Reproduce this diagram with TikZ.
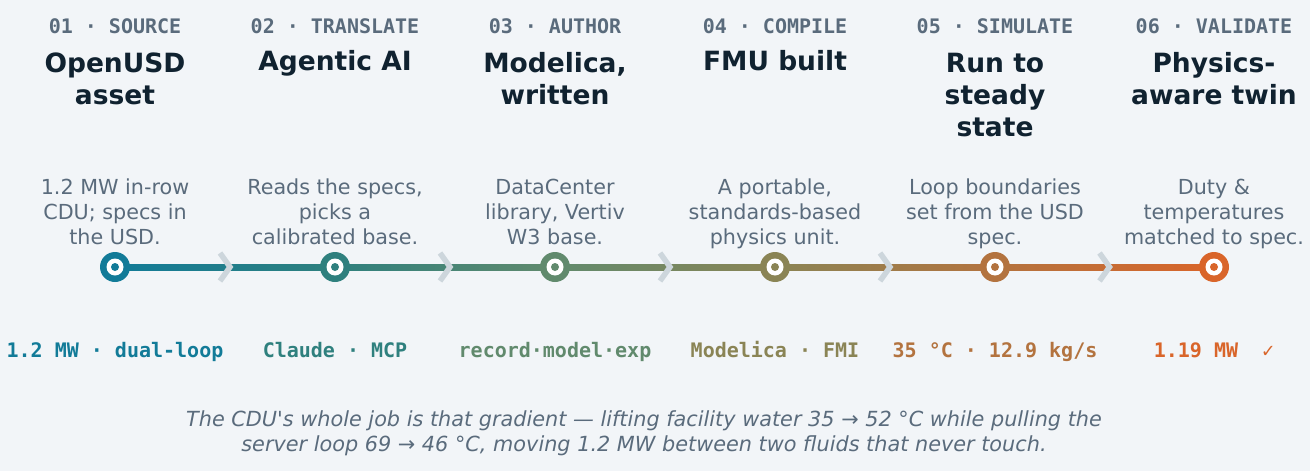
\documentclass[tikz,border=0pt]{standalone}
\usepackage{fontspec}
\setmainfont{DejaVu Sans}
\setmonofont{DejaVu Sans Mono}
\usetikzlibrary{calc}
\definecolor{bg}{HTML}{F2F5F8}
\definecolor{ink}{HTML}{102230}
\definecolor{muted}{HTML}{5A6B7C}
\definecolor{chevc}{HTML}{CDD6DC}
\definecolor{cA}{HTML}{127B98}
\definecolor{cB}{HTML}{2F807E}
\definecolor{cC}{HTML}{618A6D}
\definecolor{cD}{HTML}{8A8455}
\definecolor{cE}{HTML}{B3733F}
\definecolor{cF}{HTML}{D9652A}
\begin{document}
\begin{tikzpicture}[x=1pt,y=-1pt,
  steplbl/.style={font=\ttfamily\bfseries\fontsize{20}{24}\selectfont, text=muted, anchor=base, inner sep=0pt},
  ttl/.style={font=\bfseries\fontsize{26.5}{32}\selectfont, text=ink, align=center, anchor=base, inner sep=0pt},
  desc/.style={font=\fontsize{20.7}{25}\selectfont, text=muted, align=center, anchor=base, inner sep=0pt},
  tag/.style={font=\ttfamily\bfseries\fontsize{20}{24}\selectfont, anchor=base, inner sep=0pt, text=#1},
  stop/.style={circle, fill=#1, minimum size=30pt, inner sep=0pt},
  hole/.style={circle, fill=white, minimum size=17pt, inner sep=0pt},
  pip/.style={circle, fill=#1, minimum size=8pt, inner sep=0pt},
  chev/.style={draw=chevc, line width=5.5pt, line join=miter, line cap=butt},
  note/.style={font=\itshape\fontsize{20.8}{25}\selectfont, text=muted, align=center, anchor=base, inner sep=0pt}]
\fill[bg] (0,0) rectangle (1310,471);
\useasboundingbox (0,0) rectangle (1310,471);

% step labels
\node[steplbl] (l1) at (115,33) {01 · SOURCE};
\node[steplbl] (l2) at (335,33) {02 · TRANSLATE};
\node[steplbl] (l3) at (555,33) {03 · AUTHOR};
\node[steplbl] (l4) at (775,33) {04 · COMPILE};
\node[steplbl] (l5) at (995,33) {05 · SIMULATE};
\node[steplbl] (l6) at (1214,33) {06 · VALIDATE};

% titles (anchor = baseline of last line)
\node[ttl] (t1) at (115,104) {OpenUSD\\asset};
\node[ttl] (t2) at (335,70) {Agentic AI};
\node[ttl] (t3) at (555,104) {Modelica,\\written};
\node[ttl] (t4) at (775,70) {FMU built};
\node[ttl] (t5) at (995,136) {Run to\\steady\\state};
\node[ttl] (t6) at (1214,104) {Physics-\\aware twin};

% descriptions
\node[desc] (d1) at (115,244) {1.2 MW in-row\\CDU; specs in\\the USD.};
\node[desc] (d2) at (335,244) {Reads the specs,\\picks a\\calibrated base.};
\node[desc] (d3) at (555,244) {DataCenter\\library, Vertiv\\W3 base.};
\node[desc] (d4) at (775,244) {A portable,\\standards-based\\physics unit.};
\node[desc] (d5) at (995,244) {Loop boundaries\\set from the USD\\spec.};
\node[desc] (d6) at (1214,244) {Duty \&\\temperatures\\matched to spec.};

% stop coordinates
\coordinate (s1) at (115,267);
\coordinate (s2) at (335,267);
\coordinate (s3) at (555,267);
\coordinate (s4) at (775,267);
\coordinate (s5) at (995,267);
\coordinate (s6) at (1214,267);

% gradient track
\foreach \a/\b/\ca/\cb in {s1/s2/cA/cB, s2/s3/cB/cC, s3/s4/cC/cD, s4/s5/cD/cE, s5/s6/cE/cF}{
  \foreach \k in {0,...,54}{
    \pgfmathsetmacro\p{100*(\k+0.5)/55}
    \pgfmathsetmacro\u{\k/55}
    \pgfmathsetmacro\v{(\k+1)/55}
    \draw[line width=7pt, color=\cb!\p!\ca] ($(\a)!\u!(\b)$) -- ($(\a)!\v!(\b)$);
  }
}

% chevrons
\foreach \a/\b in {s1/s2, s2/s3, s3/s4, s4/s5, s5/s6}{
  \draw[chev] ($(\a)!0.5!(\b)+(-5,-14)$) -- ($(\a)!0.5!(\b)+(5,0)$) -- ($(\a)!0.5!(\b)+(-5,14)$);
}

% stops
\foreach \s/\c in {s1/cA, s2/cB, s3/cC, s4/cD, s5/cE, s6/cF}{
  \node[stop=\c] (n\s) at (\s) {};
  \node[hole] at (\s) {};
  \node[pip=\c] at (\s) {};
}

% tags
\node[tag=cA] (g1) at (115,357) {1.2 MW · dual-loop};
\node[tag=cB] (g2) at (335,357) {Claude · MCP};
\node[tag=cC] (g3) at (555,357) {record·model·exp};
\node[tag=cD] (g4) at (775,357) {Modelica · FMI};
\node[tag=cE] (g5) at (995,357) {35 °C · 12.9 kg/s};
\node[tag=cF] (g6) at (1214,357) {1.19 MW\ \ {\mdseries ✓}};

% note (anchor = baseline of last line)
\node[note] (nt) at (644,451) {The CDU\textquotesingle s whole job is that gradient — lifting facility water 35 → 52 °C while pulling the\\server loop 69 → 46 °C, moving 1.2 MW between two fluids that never touch.};
\end{tikzpicture}
\end{document}
